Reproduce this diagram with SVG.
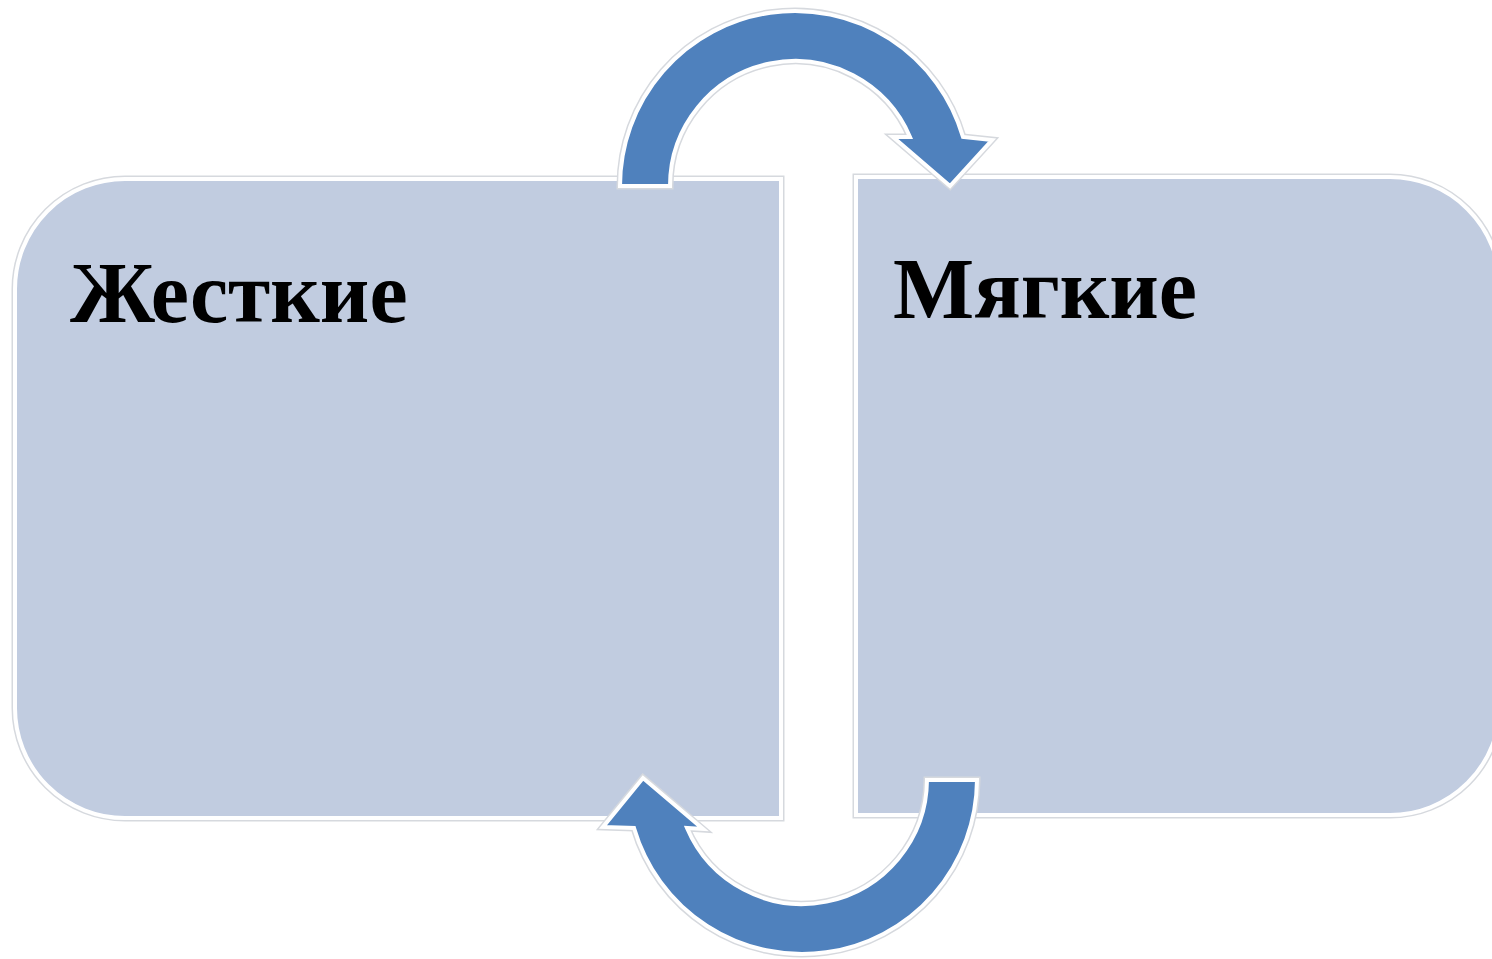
<svg xmlns="http://www.w3.org/2000/svg" width="1492" height="959" viewBox="0 0 1492 959">
<style>
.halo{fill:none;stroke:#d6d9de;stroke-width:7;stroke-linejoin:miter}
.box{fill:#C1CCE0;stroke:#ffffff;stroke-width:4}
.arrow{fill:#4F81BD;stroke:#ffffff;stroke-width:4;stroke-linejoin:miter}
.lbl{font-family:"Liberation Serif","Times New Roman",serif;font-weight:bold;font-size:86px;fill:#000000}
</style>
<rect width="1492" height="959" fill="#ffffff"/>
<g id="node-hard">
<path class="halo" d="M 125,179 L 781,179 L 781,818 L 125,818 A 110 110 0 0 1 15,708 L 15,289 A 110 110 0 0 1 125,179 Z"/>
<path class="box" d="M 125,179 L 781,179 L 781,818 L 125,818 A 110 110 0 0 1 15,708 L 15,289 A 110 110 0 0 1 125,179 Z"/>
<text class="lbl" x="70" y="322">Жесткие</text>
</g>
<g id="node-soft">
<path class="halo" d="M 856,177 L 1390,177 A 110 110 0 0 1 1500,287 L 1500,705 A 110 110 0 0 1 1390,815 L 856,815 Z"/>
<path class="box" d="M 856,177 L 1390,177 A 110 110 0 0 1 1500,287 L 1500,705 A 110 110 0 0 1 1390,815 L 856,815 Z"/>
<text class="lbl" x="893" y="318">Мягкие</text>
</g>
<g id="connectors">
<path class="halo" d="M 620,186 A 175 175 0 0 1 963,137 L 992,140 L 950,186 L 893,137 L 910,137 A 125 125 0 0 0 670,186 Z"/>
<path class="arrow" d="M 620,186 A 175 175 0 0 1 963,137 L 992,140 L 950,186 L 893,137 L 910,137 A 125 125 0 0 0 670,186 Z"/>
<path class="halo" d="M 977,780 A 175 175 0 0 1 634,828 L 603,827 L 643,778 L 703,829 L 687,828 A 125 125 0 0 0 927,780 Z"/>
<path class="arrow" d="M 977,780 A 175 175 0 0 1 634,828 L 603,827 L 643,778 L 703,829 L 687,828 A 125 125 0 0 0 927,780 Z"/>
</g>
</svg>
